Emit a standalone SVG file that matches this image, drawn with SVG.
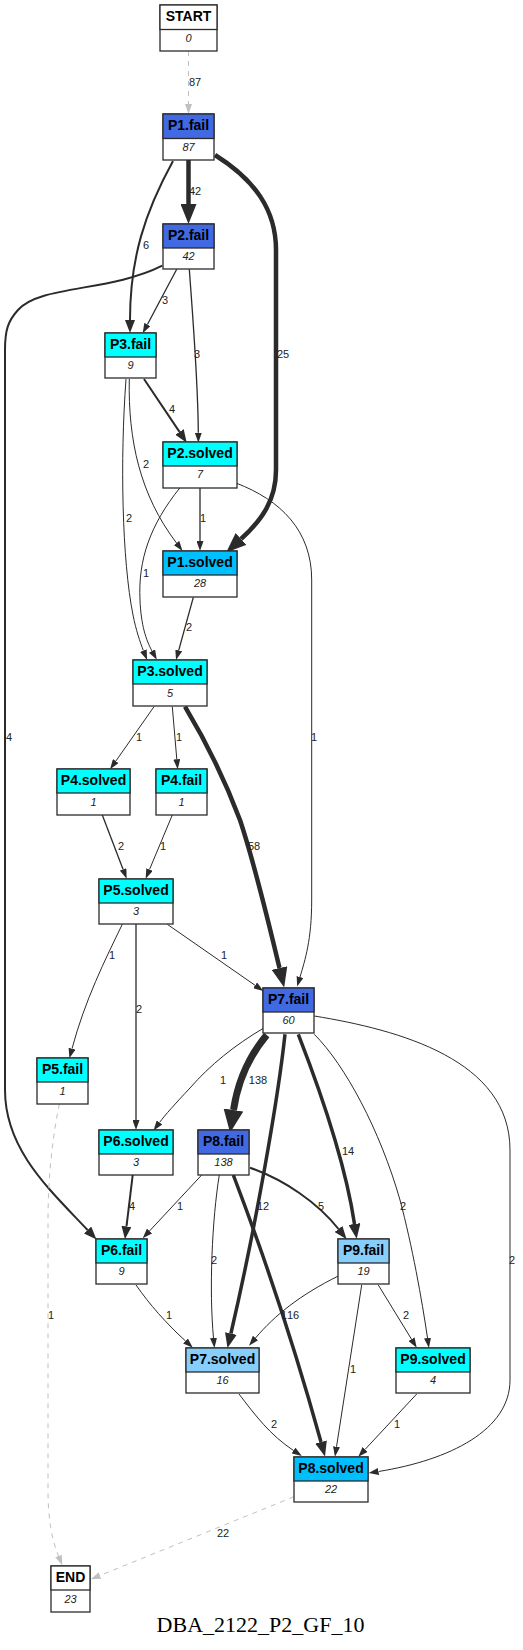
<svg xmlns="http://www.w3.org/2000/svg" width="523" height="1650" viewBox="0 0 523 1650">
<style>
.bg{fill:#ffffff}
.box{fill:#ffffff;stroke:#2b2b2b;stroke-width:1.3}
.hdr{stroke:#2b2b2b;stroke-width:1.3}
.h{font-family:"Liberation Sans",Arial,sans-serif;font-weight:bold;font-size:14px;text-anchor:middle;fill:#000}
.n{font-family:"Liberation Sans",Arial,sans-serif;font-style:italic;font-size:11px;text-anchor:middle;fill:#222}
.e{fill:none;stroke:#2b2b2b}
.g{fill:none;stroke:#c0c0c0;stroke-width:1;stroke-dasharray:5,5}
.l{font-family:"Liberation Sans",Arial,sans-serif;font-size:11px;text-anchor:middle;fill:#222}
.t{font-family:"Liberation Serif","Times New Roman",serif;font-size:22px;text-anchor:middle;fill:#000}
.w1{stroke-width:1;marker-end:url(#a1)}
.w13{stroke-width:1.3;marker-end:url(#a1)}
.w2{stroke-width:2;marker-end:url(#a2)}
.w35{stroke-width:3.5;marker-end:url(#a3)}
.w45{stroke-width:4.5;marker-end:url(#a4)}
.w7{stroke-width:7;marker-end:url(#a5)}
.cb{fill:#4169e1}
.cc{fill:#00ffff}
.cd{fill:#00bfff}
.cl{fill:#87cefa}
.cw{fill:#ffffff}
</style>
<defs>
<marker id="a1" viewBox="0 0 10 7" refX="0" refY="3.5" markerWidth="10" markerHeight="7" markerUnits="userSpaceOnUse" orient="auto"><path d="M0,0 L10,3.5 L0,7 Z" fill="#2b2b2b"/></marker>
<marker id="a2" viewBox="0 0 13 10" refX="0" refY="5" markerWidth="13" markerHeight="10" markerUnits="userSpaceOnUse" orient="auto"><path d="M0,0 L13,5 L0,10 Z" fill="#2b2b2b"/></marker>
<marker id="a3" viewBox="0 0 15 12" refX="0" refY="6" markerWidth="15" markerHeight="12" markerUnits="userSpaceOnUse" orient="auto"><path d="M0,0 L15,6 L0,12 Z" fill="#2b2b2b"/></marker>
<marker id="a4" viewBox="0 0 20 16" refX="0" refY="8" markerWidth="20" markerHeight="16" markerUnits="userSpaceOnUse" orient="auto"><path d="M0,0 L20,8 L0,16 Z" fill="#2b2b2b"/></marker>
<marker id="a5" viewBox="0 0 23 20" refX="0" refY="10" markerWidth="23" markerHeight="20" markerUnits="userSpaceOnUse" orient="auto"><path d="M0,0 L23,10 L0,20 Z" fill="#2b2b2b"/></marker>
<marker id="ag" viewBox="0 0 10 7" refX="0" refY="3.5" markerWidth="10" markerHeight="7" markerUnits="userSpaceOnUse" orient="auto"><path d="M0,0 L10,3.5 L0,7 Z" fill="#c0c0c0"/></marker>
</defs>
<rect class="bg" x="0" y="0" width="523" height="1650"/>

<g id="edges">
<path class="g" d="M188.5,51 L188.5,104" marker-end="url(#ag)"/>
<text class="l" x="195" y="86">87</text>
<path class="e w45" d="M188.5,160 L188.5,204"/>
<text class="l" x="195" y="195">42</text>
<path class="e w2" d="M173,161 C145,212 130,258 130,320"/>
<text class="l" x="146" y="249">6</text>
<path class="e w45" d="M215,155 C255,180 276,210 276,250 L276,470 C276,500 262,520 241,539"/>
<text class="l" x="283" y="358">25</text>
<path class="e w13" d="M176.7,269.3 L147.4,324.5"/>
<text class="l" x="165" y="304">3</text>
<path class="e w13" d="M189.3,269.3 C193,320 198,380 198.3,432.7"/>
<text class="l" x="197" y="358">3</text>
<path class="e w2" d="M162.3,265.7 C110,292 40,285 18,310 C8,321 5,330 5,350 L5,1090 C5,1150 50,1190 87.6,1230"/>
<text class="l" x="9" y="741">4</text>
<path class="e w2" d="M144,379 L179.5,431.9"/>
<text class="l" x="172" y="413">4</text>
<path class="e w1" d="M129.3,379 C128,440 140,495 176.5,543"/>
<text class="l" x="146" y="468">2</text>
<path class="e w1" d="M126,379 C120,460 122,560 133,615 C136,630 140,642 143.4,650.6"/>
<text class="l" x="129" y="522">2</text>
<path class="e w13" d="M200,488 L200,541"/>
<text class="l" x="203" y="522">1</text>
<path class="e w1" d="M180,487.7 C150,525 138,560 140,600 C141,625 146,640 152,651"/>
<text class="l" x="146" y="577">1</text>
<path class="e w1" d="M236.7,483.3 C280,500 311.7,530 311.7,580 L311.7,900 C311.7,940 305,960 300,977"/>
<text class="l" x="314" y="741">1</text>
<path class="e w13" d="M193.3,597.3 L178.7,650.4"/>
<text class="l" x="189" y="631">2</text>
<path class="e w1" d="M154,706.7 L115.8,761.1"/>
<text class="l" x="139" y="741">1</text>
<path class="e w1" d="M172.3,706.7 L176.8,759.3"/>
<text class="l" x="179" y="741">1</text>
<path class="e w45" d="M185,706.7 C205,740 225,780 240,820 C255,865 268,920 279.5,968"/>
<text class="l" x="254" y="850">58</text>
<path class="e w13" d="M102.3,815 L123.1,869.4"/>
<text class="l" x="121" y="850">2</text>
<path class="e w1" d="M172.3,815 L149.5,869.5"/>
<text class="l" x="163" y="850">1</text>
<path class="e w1" d="M122.3,924.3 C105,960 85,1000 72,1048.7"/>
<text class="l" x="112" y="959">1</text>
<path class="e w13" d="M136,924 L136,1120"/>
<text class="l" x="139" y="1013">2</text>
<path class="e w1" d="M167.3,924.3 L255.1,985.3"/>
<text class="l" x="224" y="959">1</text>
<path class="g" d="M59.3,1104 C52,1140 48,1180 48,1220 L48,1490 C48,1520 52,1540 58.5,1556" marker-end="url(#ag)"/>
<text class="l" x="51" y="1319">1</text>
<path class="e w1" d="M263.3,1028.3 C235,1045 210,1065 190,1088 C175,1104 165,1115 159.5,1122.5"/>
<text class="l" x="223" y="1084">1</text>
<path class="e w7" d="M266.7,1035 C250,1055 238,1080 233.5,1110"/>
<text class="l" x="258" y="1084">138</text>
<path class="e w35" d="M285,1034.3 C278,1100 255,1230 230.9,1333.5"/>
<text class="l" x="263" y="1210">12</text>
<path class="e w35" d="M298.3,1034.3 C320,1090 345,1160 354.5,1224"/>
<text class="l" x="348" y="1155">14</text>
<path class="e w1" d="M314.3,1034.3 C345,1065 380,1130 400,1200 C412,1245 422,1300 427.5,1338"/>
<text class="l" x="403" y="1210">2</text>
<path class="e w1" d="M314.3,1016 C400,1030 510,1060 510,1150 L510,1380 C510,1430 450,1460 378.5,1471.5"/>
<text class="l" x="512" y="1264">2</text>
<path class="e w2" d="M132.7,1175 L126.5,1226.4"/>
<text class="l" x="132" y="1210">4</text>
<path class="e w1" d="M201.7,1175 L149.5,1231"/>
<text class="l" x="180" y="1210">1</text>
<path class="e w1" d="M219.3,1175 C212,1220 209,1290 213.5,1338"/>
<text class="l" x="214" y="1264">2</text>
<path class="e w35" d="M233.3,1175 C260,1245 290,1330 321,1442"/>
<text class="l" x="293" y="1319">16</text>
<path class="e w2" d="M250,1167.7 C285,1180 318,1203 338.5,1229"/>
<text class="l" x="321" y="1210">5</text>
<path class="e w1" d="M338.3,1276 C300,1295 275,1315 255.5,1338"/>
<text class="l" x="284" y="1319">1</text>
<path class="e w1" d="M361.7,1285 L336.5,1446.8"/>
<text class="l" x="353" y="1373">1</text>
<path class="e w1" d="M378.3,1285 L411.5,1339.2"/>
<text class="l" x="406" y="1319">2</text>
<path class="e w1" d="M136,1285 C150,1305 165,1322 185.5,1341"/>
<text class="l" x="169" y="1319">1</text>
<path class="e w1" d="M239,1394 C255,1415 270,1435 293.5,1450.5"/>
<text class="l" x="274" y="1428">2</text>
<path class="e w1" d="M416.7,1394 L365.1,1449.4"/>
<text class="l" x="397" y="1428">1</text>
<path class="g" d="M294,1496.7 L100,1575.5" marker-end="url(#ag)"/>
<text class="l" x="223" y="1537">22</text>
</g>

<g id="START"><rect class="box" x="160" y="5" width="57" height="46"/><rect class="hdr cw" x="160" y="5" width="57" height="24.5"/><text class="h" x="188.5" y="21">START</text><text class="n" x="188.5" y="42">0</text></g>
<g id="P1.fail"><rect class="box" x="163" y="114" width="51" height="46"/><rect class="hdr cb" x="163" y="114" width="51" height="24.5"/><text class="h" x="188.5" y="130">P1.fail</text><text class="n" x="188.5" y="151">87</text></g>
<g id="P2.fail"><rect class="box" x="163" y="224" width="51" height="45"/><rect class="hdr cb" x="163" y="224" width="51" height="24"/><text class="h" x="188.5" y="240">P2.fail</text><text class="n" x="188.5" y="260">42</text></g>
<g id="P3.fail"><rect class="box" x="105" y="333" width="51" height="45"/><rect class="hdr cc" x="105" y="333" width="51" height="24"/><text class="h" x="130.5" y="349">P3.fail</text><text class="n" x="130.5" y="369">9</text></g>
<g id="P2.solved"><rect class="box" x="163" y="442" width="74" height="46"/><rect class="hdr cc" x="163" y="442" width="74" height="24"/><text class="h" x="200" y="458">P2.solved</text><text class="n" x="200" y="478">7</text></g>
<g id="P1.solved"><rect class="box" x="163" y="551" width="74" height="46"/><rect class="hdr cd" x="163" y="551" width="74" height="24"/><text class="h" x="200" y="567">P1.solved</text><text class="n" x="200" y="587">28</text></g>
<g id="P3.solved"><rect class="box" x="133" y="660" width="74" height="46"/><rect class="hdr cc" x="133" y="660" width="74" height="24"/><text class="h" x="170" y="676">P3.solved</text><text class="n" x="170" y="697">5</text></g>
<g id="P4.solved"><rect class="box" x="57" y="769" width="73" height="46"/><rect class="hdr cc" x="57" y="769" width="73" height="24"/><text class="h" x="93.5" y="785">P4.solved</text><text class="n" x="93.5" y="806">1</text></g>
<g id="P4.fail"><rect class="box" x="156" y="769" width="51" height="46"/><rect class="hdr cc" x="156" y="769" width="51" height="24"/><text class="h" x="181.5" y="785">P4.fail</text><text class="n" x="181.5" y="806">1</text></g>
<g id="P5.solved"><rect class="box" x="99" y="879" width="74" height="45"/><rect class="hdr cc" x="99" y="879" width="74" height="24"/><text class="h" x="136" y="895">P5.solved</text><text class="n" x="136" y="915">3</text></g>
<g id="P7.fail"><rect class="box" x="263" y="988" width="51" height="45"/><rect class="hdr cb" x="263" y="988" width="51" height="24"/><text class="h" x="288.5" y="1004">P7.fail</text><text class="n" x="288.5" y="1024">60</text></g>
<g id="P5.fail"><rect class="box" x="37" y="1058" width="51" height="46"/><rect class="hdr cc" x="37" y="1058" width="51" height="24"/><text class="h" x="62.5" y="1074">P5.fail</text><text class="n" x="62.5" y="1095">1</text></g>
<g id="P6.solved"><rect class="box" x="99" y="1130" width="74" height="45"/><rect class="hdr cc" x="99" y="1130" width="74" height="24"/><text class="h" x="136" y="1146">P6.solved</text><text class="n" x="136" y="1166">3</text></g>
<g id="P8.fail"><rect class="box" x="198" y="1130" width="51" height="45"/><rect class="hdr cb" x="198" y="1130" width="51" height="24"/><text class="h" x="223.5" y="1146">P8.fail</text><text class="n" x="223.5" y="1166">138</text></g>
<g id="P6.fail"><rect class="box" x="96" y="1239" width="51" height="45"/><rect class="hdr cc" x="96" y="1239" width="51" height="24"/><text class="h" x="121.5" y="1255">P6.fail</text><text class="n" x="121.5" y="1275">9</text></g>
<g id="P9.fail"><rect class="box" x="338" y="1239" width="51" height="45"/><rect class="hdr cl" x="338" y="1239" width="51" height="24"/><text class="h" x="363.5" y="1255">P9.fail</text><text class="n" x="363.5" y="1275">19</text></g>
<g id="P7.solved"><rect class="box" x="186" y="1348" width="73" height="45"/><rect class="hdr cl" x="186" y="1348" width="73" height="24"/><text class="h" x="222.5" y="1364">P7.solved</text><text class="n" x="222.5" y="1384">16</text></g>
<g id="P9.solved"><rect class="box" x="396" y="1348" width="74" height="45"/><rect class="hdr cc" x="396" y="1348" width="74" height="24"/><text class="h" x="433" y="1364">P9.solved</text><text class="n" x="433" y="1384">4</text></g>
<g id="P8.solved"><rect class="box" x="294" y="1457" width="74" height="45"/><rect class="hdr cd" x="294" y="1457" width="74" height="24"/><text class="h" x="331" y="1473">P8.solved</text><text class="n" x="331" y="1493">22</text></g>
<g id="END"><rect class="box" x="51" y="1566" width="39" height="46"/><rect class="hdr cw" x="51" y="1566" width="39" height="24"/><text class="h" x="70.5" y="1582">END</text><text class="n" x="70.5" y="1603">23</text></g>

<text class="t" x="260.5" y="1632">DBA_2122_P2_GF_10</text>
</svg>
